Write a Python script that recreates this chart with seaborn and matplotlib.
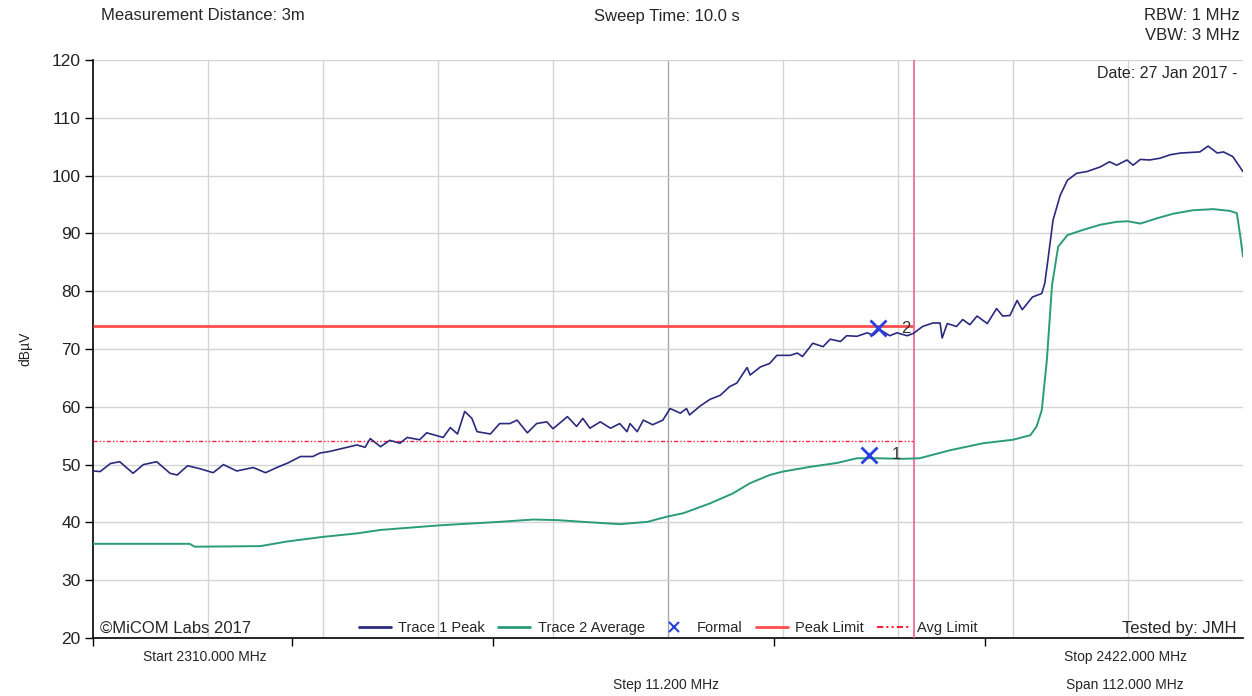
import numpy as np
import pandas as pd
import seaborn as sns
import matplotlib.pyplot as plt
from matplotlib.lines import Line2D

# trace 1 peak (MHz, dBuV)
peak_freq = [2310.0, 2310.7, 2311.7, 2312.6, 2313.9, 2314.9, 2316.2, 2317.5, 2318.2, 2319.2,
             2320.4, 2321.7, 2322.7, 2324.0, 2325.6, 2326.8, 2327.9, 2329.0, 2330.2, 2331.4,
             2332.1, 2333.1, 2334.3, 2335.7, 2336.5, 2337.0, 2338.0, 2338.9, 2339.9, 2340.6,
             2341.8, 2342.5, 2344.1, 2344.8, 2345.5, 2346.2, 2346.9, 2347.4, 2348.7, 2349.6,
             2350.6, 2351.3, 2352.3, 2353.2, 2354.2, 2354.8, 2356.2, 2357.1, 2357.7, 2358.4,
             2359.4, 2360.4, 2361.3, 2362.0, 2362.3, 2363.0, 2363.6, 2364.5, 2365.5, 2366.2,
             2367.2, 2367.8, 2368.1, 2369.1, 2370.1, 2371.1, 2372.0, 2372.7, 2373.7, 2374.0,
             2375.0, 2375.9, 2376.6, 2377.9, 2378.6, 2379.1, 2380.1, 2381.1, 2381.8, 2382.8,
             2383.4, 2384.4, 2385.4, 2386.0, 2386.6, 2387.6, 2388.3, 2389.3, 2389.9, 2390.8,
             2391.8, 2392.5, 2392.7, 2393.2, 2394.1, 2394.7, 2395.4, 2396.1, 2397.1, 2398.0,
             2398.6, 2399.3, 2400.0, 2400.5, 2401.5, 2402.4, 2402.7, 2403.0, 2403.5, 2404.2,
             2404.9, 2405.8, 2406.8, 2408.1, 2409.0, 2409.7, 2410.7, 2411.3, 2412.0, 2412.9,
             2413.9, 2414.9, 2415.9, 2416.8, 2417.8, 2418.6, 2419.5, 2420.1, 2421.0, 2422.0]
peak_level = [48.9, 48.8, 50.2, 50.5, 48.5, 50.0, 50.5, 48.5, 48.2, 49.8,
              49.3, 48.6, 50.0, 48.9, 49.5, 48.6, 49.5, 50.3, 51.4, 51.4,
              52.0, 52.3, 52.8, 53.4, 53.0, 54.5, 53.1, 54.2, 53.7, 54.7,
              54.3, 55.5, 54.7, 56.4, 55.3, 59.2, 58.0, 55.7, 55.3, 57.1,
              57.1, 57.7, 55.5, 57.1, 57.4, 56.2, 58.3, 56.6, 58.0, 56.3,
              57.4, 56.3, 57.1, 55.7, 57.1, 55.7, 57.7, 56.9, 57.7, 59.7,
              58.9, 59.7, 58.6, 60.1, 61.3, 62.0, 63.5, 64.1, 66.8, 65.5,
              66.9, 67.5, 68.9, 68.9, 69.3, 68.7, 71.0, 70.4, 71.7, 71.3,
              72.3, 72.2, 72.8, 72.4, 73.4, 72.3, 72.8, 72.3, 72.7, 73.9,
              74.5, 74.5, 71.9, 74.4, 73.9, 75.1, 74.2, 75.7, 74.4, 77.0,
              75.7, 75.8, 78.4, 76.8, 79.0, 79.6, 81.4, 85.4, 92.3, 96.6,
              99.2, 100.4, 100.7, 101.5, 102.4, 101.8, 102.7, 101.8, 102.8, 102.7,
              103.0, 103.6, 103.9, 104.0, 104.1, 105.1, 103.9, 104.1, 103.3, 100.7]

# trace 2 average
avg_freq = [2310.0, 2319.4, 2319.9, 2326.3, 2328.9, 2332.4, 2335.7, 2338.0, 2343.8, 2349.6,
            2352.9, 2355.2, 2357.7, 2361.3, 2364.0, 2365.9, 2367.5, 2370.1, 2372.3, 2374.0,
            2375.9, 2377.2, 2379.8, 2382.5, 2384.4, 2386.4, 2388.9, 2390.5, 2393.5, 2396.7,
            2399.6, 2401.3, 2401.9, 2402.4, 2402.9, 2403.4, 2404.0, 2404.9, 2406.4, 2408.1,
            2409.7, 2410.8, 2412.0, 2413.6, 2415.2, 2417.1, 2419.1, 2420.7, 2421.4, 2421.7,
            2422.0]
avg_level = [36.3, 36.3, 35.8, 35.9, 36.7, 37.5, 38.1, 38.7, 39.5, 40.1,
             40.5, 40.4, 40.1, 39.7, 40.1, 41.0, 41.6, 43.3, 45.0, 46.8,
             48.2, 48.8, 49.6, 50.3, 51.1, 51.1, 51.0, 51.1, 52.5, 53.7,
             54.3, 55.1, 56.6, 59.4, 68.1, 81.0, 87.7, 89.7, 90.6, 91.5,
             92.0, 92.1, 91.7, 92.6, 93.4, 94.0, 94.2, 93.9, 93.5, 90.0,
             86.0]

# markers
marker_freq = [2385.6, 2386.5]
marker_level = [51.7, 73.6]
marker_names = ["1", "2"]

start_mhz, stop_mhz, step_mhz = 2310.0, 2422.0, 11.2
band_edge = 2390.0
peak_limit = 74.0
avg_limit = 54.0
bottom_ticks = [2310.0, 2329.4, 2349.0, 2376.3, 2396.9]

peak_col = "#2b2a7e"
avg_col = "#2a9d78"
limit_col = "#ff4d4d"
avg_dash = (0, (3, 1.5, 1, 1.5, 1, 1.5))

sns.set_style("white")
plt.rcParams["font.family"] = ["Liberation Sans", "DejaVu Sans"]

fig = plt.figure(figsize=(12.52, 6.96), dpi=100)
ax = fig.add_axes([0.0743, 0.0833, 0.9185, 0.8305])

df_peak = pd.DataFrame({"freq": peak_freq, "level": peak_level})
df_avg = pd.DataFrame({"freq": avg_freq, "level": avg_level})
sns.lineplot(data=df_peak, x="freq", y="level", ax=ax, color=peak_col, lw=1.2, zorder=4)
sns.lineplot(data=df_avg, x="freq", y="level", ax=ax, color=avg_col, lw=1.4, zorder=4)

# limits
ax.hlines(peak_limit, start_mhz, band_edge, color=limit_col, lw=2, zorder=3)
ax.hlines(avg_limit, start_mhz, band_edge, color="#ff2040", lw=1, linestyle=avg_dash, zorder=3)
ax.axvline(band_edge, color="#f26b99", lw=1.3, zorder=3)

# markers
ax.plot(marker_freq, marker_level, "x", color="#2a3fe0", ms=11, mew=2, zorder=5)
for f, lv, name in zip(marker_freq, marker_level, marker_names):
    ax.text(f + 2.2, lv, name, fontsize=12, color="#333333", va="center", ha="left", zorder=5)

ax.set_xlim(start_mhz, stop_mhz)
ax.set_ylim(20, 120)
ax.set_yticks(np.arange(20, 121, 10))
grid_x = [start_mhz + step_mhz * k for k in range(1, 10)]
ax.set_xticks(grid_x)
ax.set_xticklabels([])
ax.tick_params(axis="x", which="major", length=0)
ax.set_xticks(bottom_ticks, minor=True)
ax.tick_params(axis="x", which="minor", bottom=True, length=6, width=1, color="black", direction="out")
ax.tick_params(axis="y", left=True, length=6, width=1, color="black", direction="out",
               labelsize=12.5, labelcolor="#222222", pad=3)
ax.grid(True, color="#d4d4d4", lw=1)
ax.xaxis.get_gridlines()[4].set_color("#a8a8a8")
for s in ["top", "right"]:
    ax.spines[s].set_visible(False)
for s in ["left", "bottom"]:
    ax.spines[s].set_color("black")
    ax.spines[s].set_linewidth(1.2)
ax.set_xlabel("")
ax.set_ylabel("dBµV", fontsize=10, labelpad=14)

# legend
handles = [Line2D([], [], color=peak_col, lw=2),
           Line2D([], [], color=avg_col, lw=2),
           Line2D([], [], color="#2a3fe0", marker="x", ls="", ms=7, mew=1.5),
           Line2D([], [], color=limit_col, lw=2),
           Line2D([], [], color="#ff2040", lw=1.5, linestyle=avg_dash)]
labels = ["Trace 1 Peak", "Trace 2 Average", "Formal", "Peak Limit", "Avg Limit"]
fig.legend(handles, labels, loc="center", bbox_to_anchor=(668 / 1252, 1 - 628 / 696), ncol=5,
           frameon=False, fontsize=10.5, handlelength=2.2, handletextpad=0.5, columnspacing=0.9)

# annotation texts
fs = 12
fig.text(101 / 1252, 1 - 16 / 696, "Measurement Distance: 3m", fontsize=fs, va="center", ha="left")
fig.text(667 / 1252, 1 - 16 / 696, "Sweep Time: 10.0 s", fontsize=fs, va="center", ha="center")
fig.text(1240 / 1252, 1 - 16 / 696, "RBW: 1 MHz", fontsize=fs, va="center", ha="right")
fig.text(1240 / 1252, 1 - 36 / 696, "VBW: 3 MHz", fontsize=fs, va="center", ha="right")
fig.text(1237 / 1252, 1 - 73 / 696, "Date: 27 Jan 2017 -", fontsize=11.5, va="center", ha="right")
fig.text(100 / 1252, 1 - 628 / 696, "©MiCOM Labs 2017", fontsize=12, va="center", ha="left")
fig.text(1237 / 1252, 1 - 628 / 696, "Tested by: JMH", fontsize=12, va="center", ha="right")
fig.text(205 / 1252, 1 - 657 / 696, "Start 2310.000 MHz", fontsize=10, va="center", ha="center")
fig.text(1125 / 1252, 1 - 657 / 696, "Stop 2422.000 MHz", fontsize=10, va="center", ha="center")
fig.text(666 / 1252, 1 - 685 / 696, "Step 11.200 MHz", fontsize=10, va="center", ha="center")
fig.text(1125 / 1252, 1 - 685 / 696, "Span 112.000 MHz", fontsize=10, va="center", ha="center")

fig.savefig("out.png", dpi=100)
